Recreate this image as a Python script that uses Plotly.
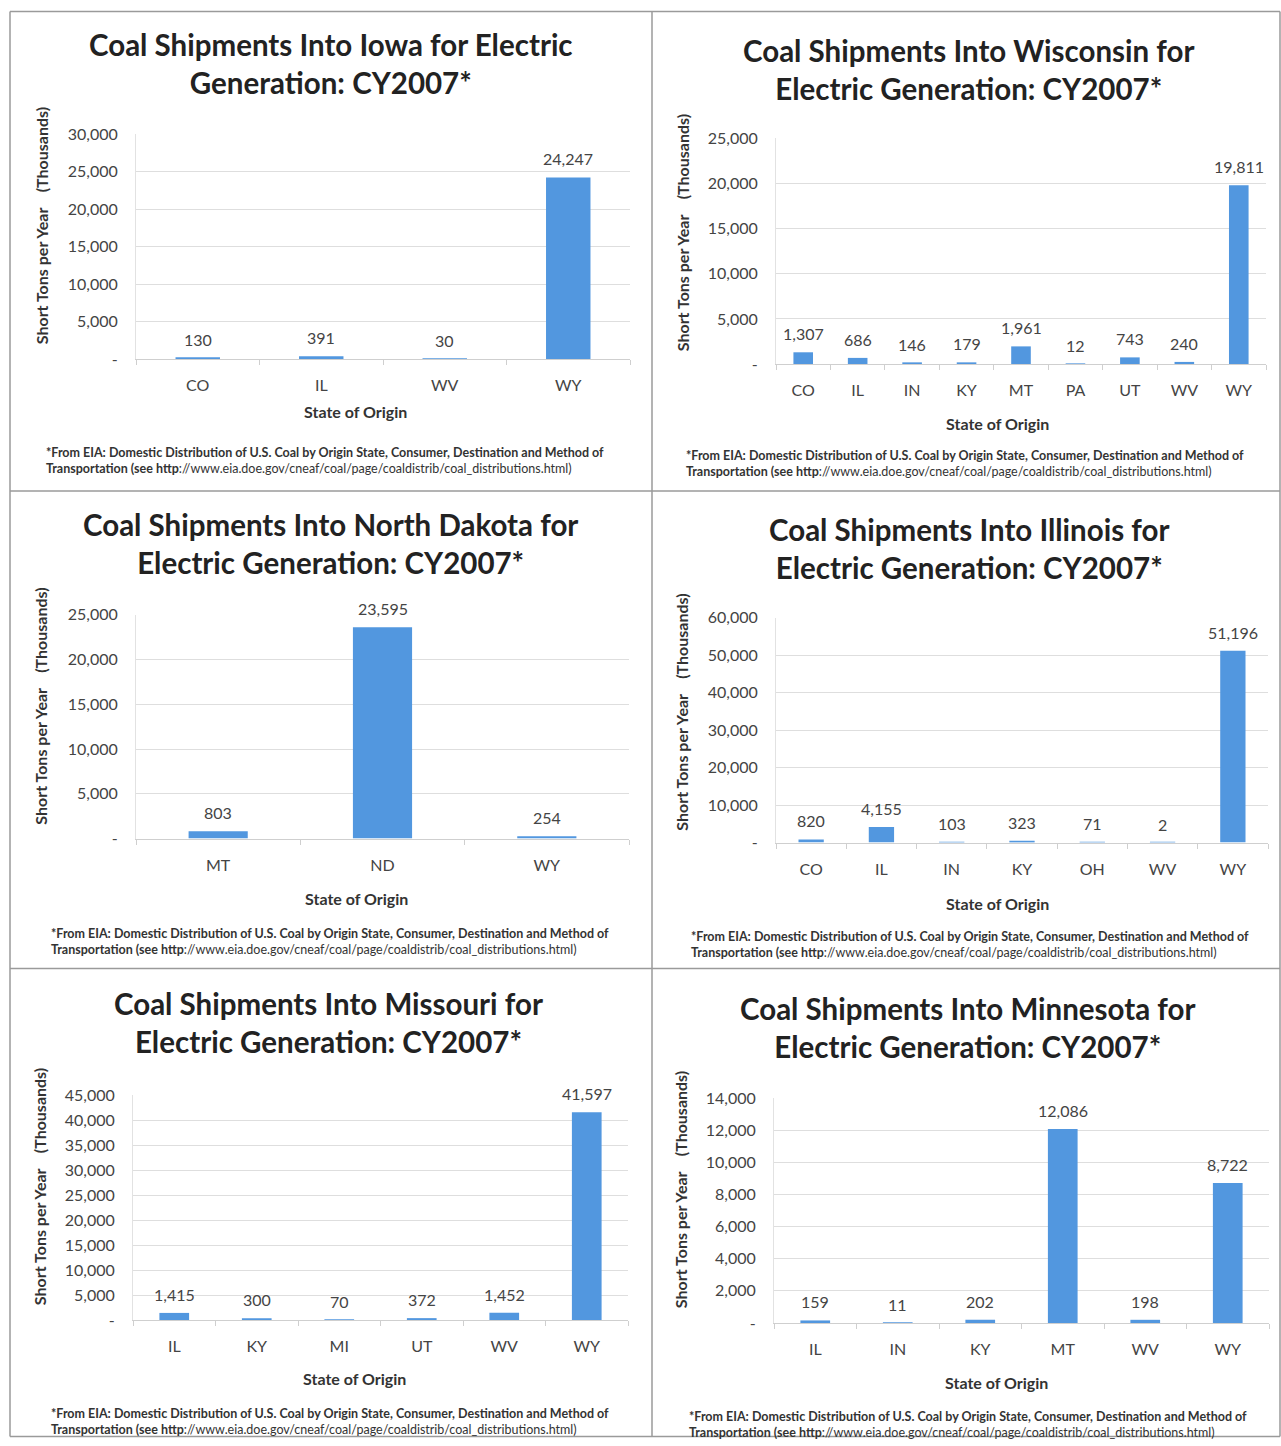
import plotly.graph_objects as go

W, H = 1281, 1446
BAR = "#5297df"
FONT = "Lato"

# ---------------- data ----------------
iowa_states = ["CO", "IL", "WV", "WY"]
iowa_vals = [130, 391, 30, 24247]
iowa_ticks = [0, 5000, 10000, 15000, 20000, 25000, 30000]

wisc_states = ["CO", "IL", "IN", "KY", "MT", "PA", "UT", "WV", "WY"]
wisc_vals = [1307, 686, 146, 179, 1961, 12, 743, 240, 19811]
wisc_ticks = [0, 5000, 10000, 15000, 20000, 25000]

nd_states = ["MT", "ND", "WY"]
nd_vals = [803, 23595, 254]
nd_ticks = [0, 5000, 10000, 15000, 20000, 25000]

ill_states = ["CO", "IL", "IN", "KY", "OH", "WV", "WY"]
ill_vals = [820, 4155, 103, 323, 71, 2, 51196]
ill_ticks = [0, 10000, 20000, 30000, 40000, 50000, 60000]

mo_states = ["IL", "KY", "MI", "UT", "WV", "WY"]
mo_vals = [1415, 300, 70, 372, 1452, 41597]
mo_ticks = [0, 5000, 10000, 15000, 20000, 25000, 30000, 35000, 40000, 45000]

mn_states = ["IL", "IN", "KY", "MT", "WV", "WY"]
mn_vals = [159, 11, 202, 12086, 198, 8722]
mn_ticks = [0, 2000, 4000, 6000, 8000, 10000, 12000, 14000]

titles = [
    "Coal Shipments Into Iowa for Electric<br>Generation: CY2007*",
    "Coal Shipments Into Wisconsin for<br>Electric Generation: CY2007*",
    "Coal Shipments Into North Dakota for<br>Electric Generation: CY2007*",
    "Coal Shipments Into Illinois for<br>Electric Generation: CY2007*",
    "Coal Shipments Into Missouri for<br>Electric Generation: CY2007*",
    "Coal Shipments Into Minnesota for<br>Electric Generation: CY2007*",
]
footnote = ("<b>*From EIA: Domestic Distribution of U.S. Coal by Origin State, Consumer, Destination and Method of</b><br>"
            "<b>Transportation (see http</b>://www.eia.doe.gov/cneaf/coal/page/coaldistrib/coal_distributions.html)")
ytitle = "Short Tons per Year&nbsp;&nbsp;&nbsp;&nbsp;(Thousands)"
xtitle = "State of Origin"

# ---------------- layout geometry (target pixels) ----------------
panels = [
    dict(states=iowa_states, vals=iowa_vals, ticks=iowa_ticks, x0=136, x1=630, yt=133, yb=358,
         tcx=331, tcy=62, ytx=41, yty=225, xtx=356, xty=410, fy=460, fcx=325),
    dict(states=wisc_states, vals=wisc_vals, ticks=wisc_ticks, x0=776, x1=1266, yt=137, yb=363,
         tcx=969, tcy=68, ytx=682, yty=232, xtx=997, xty=422, fy=463, fcx=965),
    dict(states=nd_states, vals=nd_vals, ticks=nd_ticks, x0=136, x1=629, yt=614, yb=838,
         tcx=330, tcy=543, ytx=41, yty=706, xtx=357, xty=898, fy=941, fcx=330),
    dict(states=ill_states, vals=ill_vals, ticks=ill_ticks, x0=776, x1=1268, yt=617, yb=842,
         tcx=969, tcy=548, ytx=682, yty=712, xtx=997, xty=903, fy=944, fcx=970),
    dict(states=mo_states, vals=mo_vals, ticks=mo_ticks, x0=133, x1=628, yt=1095, yb=1320,
         tcx=328, tcy=1022, ytx=39, yty=1187, xtx=355, xty=1379, fy=1422, fcx=330),
    dict(states=mn_states, vals=mn_vals, ticks=mn_ticks, x0=774, x1=1269, yt=1098, yb=1323,
         tcx=968, tcy=1027, ytx=680, yty=1190, xtx=996, xty=1383, fy=1425, fcx=968),
]

# the rendered page maps figure y to about 8.5 + 0.988*y; compensate
YA, YB = 8.5, 0.988


def fx(x):
    return x / W


def fy(y):
    yi = (y - YA) / YB
    yi = min(max(yi, 0.5), H - 0.5)
    return 1 - yi / H


fig = go.Figure()
layout = dict(width=W, height=H, margin=dict(l=0, r=0, t=0, b=0),
              paper_bgcolor="white", plot_bgcolor="white", showlegend=False,
              font=dict(family=FONT, color="#444"))
annotations = []
shapes = []

for i, p in enumerate(panels, start=1):
    sfx = "" if i == 1 else str(i)
    fig.add_trace(go.Bar(
        x=p["states"], y=p["vals"], xaxis="x" + sfx, yaxis="y" + sfx,
        marker=dict(color=BAR, line=dict(width=0)), width=0.36,
        hoverinfo="x+y",
    ))
    # data labels above each bar
    for s, v in zip(p["states"], p["vals"]):
        annotations.append(dict(text=f"{v:,}", x=s, y=v, xref="x" + sfx, yref="y" + sfx,
                                showarrow=False, xanchor="center", yanchor="bottom", yshift=7,
                                font=dict(family=FONT, size=16, color="#444")))
    layout["xaxis" + sfx] = dict(
        domain=[fx(p["x0"]), fx(p["x1"])], anchor="y" + sfx, type="category",
        showline=True, linecolor="#cfcfcf", linewidth=1, ticks="outside",
        tickson="boundaries", ticklen=5, tickcolor="#cfcfcf", ticklabelstandoff=12,
        tickfont=dict(family=FONT, size=16, color="#444"), showgrid=False, fixedrange=True,
    )
    layout["yaxis" + sfx] = dict(
        domain=[fy(p["yb"]), fy(p["yt"])], anchor="x" + sfx,
        range=[0, p["ticks"][-1]], tickvals=p["ticks"],
        ticktext=["-" if t == 0 else f"{t:,}" for t in p["ticks"]],
        showgrid=True, gridcolor="#dedede", gridwidth=1, zeroline=False,
        showline=True, linecolor="#e2e2e2", ticks="", ticklabelstandoff=14,
        tickfont=dict(family=FONT, size=16, color="#444"), fixedrange=True,
    )
    annotations.append(dict(text="<b>" + titles[i - 1] + "</b>", x=fx(p["tcx"]), y=fy(p["tcy"]),
                            xref="paper", yref="paper", showarrow=False, xanchor="center", yanchor="middle",
                            font=dict(family=FONT, size=29.5, color="#222"), align="center"))
    annotations.append(dict(text="<b>" + ytitle + "</b>", x=fx(p["ytx"]), y=fy(p["yty"]),
                            xref="paper", yref="paper", showarrow=False, textangle=-90,
                            xanchor="center", yanchor="middle",
                            font=dict(family=FONT, size=16, color="#333")))
    annotations.append(dict(text="<b>" + xtitle + "</b>", x=fx(p["xtx"]), y=fy(p["xty"]),
                            xref="paper", yref="paper", showarrow=False,
                            xanchor="center", yanchor="middle",
                            font=dict(family=FONT, size=16, color="#333")))
    annotations.append(dict(text=footnote, x=fx(p["fcx"]), y=fy(p["fy"]),
                            xref="paper", yref="paper", showarrow=False,
                            xanchor="center", yanchor="middle", align="left",
                            font=dict(family=FONT, size=12.5, color="#333")))

# panel borders
for (x0, y0, x1, y1) in [(10, 10, 1280, 10), (10, 10, 10, 1446), (652, 10, 652, 1446),
                         (1280, 10, 1280, 1446), (10, 490, 1280, 490), (10, 968, 1280, 968),
                         (10, 1445, 1280, 1445)]:
    shapes.append(dict(type="line", xref="paper", yref="paper", x0=fx(x0), x1=fx(x1),
                       y0=fy(y0), y1=fy(y1), line=dict(color="#9a9a9a", width=1.5)))

layout["annotations"] = annotations
layout["shapes"] = shapes
fig.update_layout(**layout)
fig.write_html("out.html")
